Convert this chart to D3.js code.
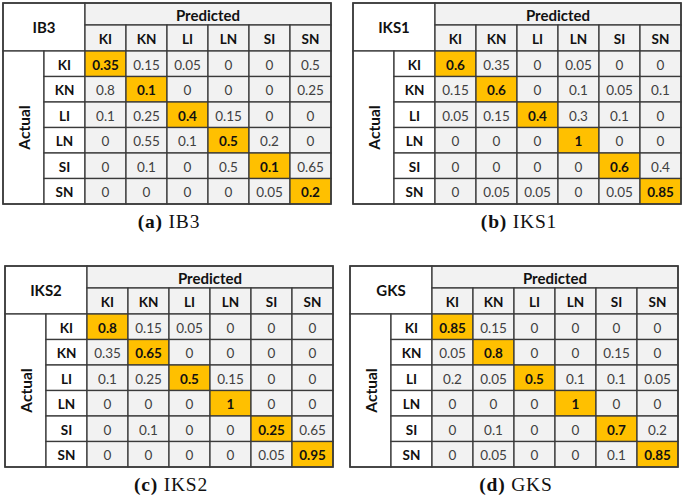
<!DOCTYPE html>
<html>
<head>
<meta charset="utf-8">
<script src="https://cdn.jsdelivr.net/npm/d3@7"></script>
<style>
  body { margin: 0; background: #fff; }
  svg { display: block; }
</style>
</head>
<body>
<svg id="chart" width="685" height="499"></svg>
<script>
// class labels
var classes = ['KI', 'KN', 'LI', 'LN', 'SI', 'SN']

// confusion matrices, rows = actual, cols = predicted
var ib3 = [
  [0.35, 0.15, 0.05, 0, 0, 0.5],
  [0.8, 0.1, 0, 0, 0, 0.25],
  [0.1, 0.25, 0.4, 0.15, 0, 0],
  [0, 0.55, 0.1, 0.5, 0.2, 0],
  [0, 0.1, 0, 0.5, 0.1, 0.65],
  [0, 0, 0, 0, 0.05, 0.2]
]
var iks1 = [
  [0.6, 0.35, 0, 0.05, 0, 0],
  [0.15, 0.6, 0, 0.1, 0.05, 0.1],
  [0.05, 0.15, 0.4, 0.3, 0.1, 0],
  [0, 0, 0, 1, 0, 0],
  [0, 0, 0, 0, 0.6, 0.4],
  [0, 0.05, 0.05, 0, 0.05, 0.85]
]
var iks2 = [
  [0.8, 0.15, 0.05, 0, 0, 0],
  [0.35, 0.65, 0, 0, 0, 0],
  [0.1, 0.25, 0.5, 0.15, 0, 0],
  [0, 0, 0, 1, 0, 0],
  [0, 0.1, 0, 0, 0.25, 0.65],
  [0, 0, 0, 0, 0.05, 0.95]
]
var gks = [
  [0.85, 0.15, 0, 0, 0, 0],
  [0.05, 0.8, 0, 0, 0.15, 0],
  [0.2, 0.05, 0.5, 0.1, 0.1, 0.05],
  [0, 0, 0, 1, 0, 0],
  [0, 0.1, 0, 0, 0.7, 0.2],
  [0, 0.05, 0, 0, 0.1, 0.85]
]

var panelNames = ['IB3', 'IKS1', 'IKS2', 'GKS']
var panelLetters = ['a', 'b', 'c', 'd']
var matrices = [ib3, iks1, iks2, gks]

// layout
var origins = [[3, 3], [353, 3], [5, 266], [350, 266]]
var actualW = 41, labelW = 41, dataW = 246
var predH = 22, colLabH = 26, dataH = 153
var lineCol = '#3a3a3a', cellFill = '#f2f2f2', diagFill = '#ffc000'
var sans = 'Lato, "Open Sans", sans-serif'

var svg = d3.select('#chart')

var fmt = function(v) { return v === 0 ? '0' : String(v) }

drawPanel = function(i) {
  var m = matrices[i]
  var g = svg.append('g').attr('transform', `translate(${origins[i][0]},${origins[i][1]})`)
  var x0 = actualW + labelW, y0 = predH + colLabH

  var xs = d3.scaleBand().domain(classes).range([x0, x0 + dataW])
  var ys = d3.scaleBand().domain(classes).range([y0, y0 + dataH])

  var cell = function(x, y, w, h, fill) {
    g.append('rect').attr('x', x).attr('y', y).attr('width', w).attr('height', h)
      .style('fill', fill).style('stroke', lineCol).style('stroke-width', 1.3)
  }
  var label = function(x, y, t, opts) {
    opts = opts || {}
    return g.append('text').attr('x', x).attr('y', y)
      .attr('text-anchor', 'middle').attr('dominant-baseline', 'central')
      .style('font-family', sans).style('font-size', (opts.size || 13) + 'px')
      .style('font-weight', opts.bold === false ? 400 : 700)
      .style('fill', opts.color || '#111')
      .text(t)
  }

  // corner box with method name
  cell(0, 0, x0, y0, '#fff')
  label(x0 / 2, y0 / 2, panelNames[i], {size: 15})

  // Predicted header
  cell(x0, 0, dataW, predH, cellFill)
  label(x0 + dataW / 2, predH / 2 + 1, 'Predicted', {size: 15})

  // Actual side label
  cell(0, y0, actualW, dataH, '#fff')
  label(0, 0, 'Actual', {size: 15.5})
    .attr('transform', `translate(${actualW / 2},${y0 + dataH / 2}) rotate(-90)`)

  classes.forEach(function(c) {
    cell(xs(c), predH, xs.bandwidth(), colLabH, cellFill)
    label(xs(c) + xs.bandwidth() / 2, predH + colLabH / 2 + 1, c, {size: 13.5})
    cell(actualW, ys(c), labelW, ys.bandwidth(), '#fff')
    label(actualW + labelW / 2, ys(c) + ys.bandwidth() / 2 + 1, c, {size: 13.5})
  })

  m.forEach(function(row, r) {
    row.forEach(function(v, k) {
      var diag = r === k
      cell(xs(classes[k]), ys(classes[r]), xs.bandwidth(), ys.bandwidth(), diag ? diagFill : cellFill)
      label(xs(classes[k]) + xs.bandwidth() / 2, ys(classes[r]) + ys.bandwidth() / 2 + 1, fmt(v),
        {size: 13.5, bold: diag, color: diag ? '#111' : '#404040'})
    })
  })

  // outer border a touch heavier
  g.append('rect').attr('x', 0).attr('y', 0).attr('width', x0 + dataW).attr('height', y0 + dataH)
    .style('fill', 'none').style('stroke', lineCol).style('stroke-width', 1.6)

  // caption
  var cap = svg.append('text')
    .attr('x', origins[i][0] + (x0 + dataW) / 2 + 2)
    .attr('y', origins[i][1] + y0 + dataH + 24)
    .attr('text-anchor', 'middle')
    .style('font-family', '"Liberation Serif", "DejaVu Serif", serif')
    .style('font-size', '19.5px').style('letter-spacing', '0.8px').style('fill', '#111')
  cap.append('tspan').style('font-weight', 700).text('(' + panelLetters[i] + ')')
  cap.append('tspan').text(' ' + panelNames[i])
}

matrices.forEach(function(m, i) { drawPanel(i) })
</script>
</body>
</html>
